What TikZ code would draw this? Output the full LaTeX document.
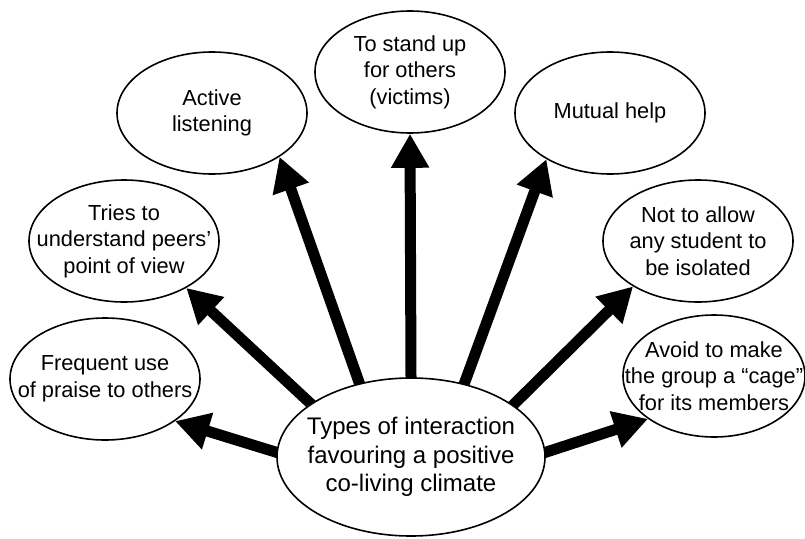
\documentclass[tikz,border=0pt]{standalone}
\usepackage{fontspec}
\setmainfont{Liberation Sans}
\usetikzlibrary{arrows.meta,shapes.geometric,backgrounds}
\tikzset{
  bubble/.style={ellipse,draw,line width=1.6pt,fill=white,
    minimum width=190pt,minimum height=122pt,inner sep=0pt},
  bubbletext/.style={align=center,inner sep=0pt,font=\fontsize{21.8}{26.5}\selectfont},
  push/.style={line width=11pt,-{Triangle[width=36pt,length=34pt]},shorten <=-6pt}
}
\begin{document}
\begin{tikzpicture}[x=1pt,y=-1pt]
      \useasboundingbox (0,0) rectangle (805,538);
      \draw
        (411,457) node[bubble,minimum width=268pt,minimum height=158pt,
          label={[bubbletext,font=\fontsize{24}{28.3}\selectfont]center:{Types of interaction\\favouring a positive\\co-living climate}}] (centre){}
        (105,379) node[bubble,label={[bubbletext]center:{Frequent use\\of praise to others}}] (praise){}
        (124,241) node[bubble,label={[bubbletext]center:{Tries to\\understand peers’\\point of view}}] (peers){}
        (212,113) node[bubble,label={[bubbletext]center:{Active\\listening}}] (listen){}
        (410,72) node[bubble,label={[bubbletext]center:{To stand up\\for others\\(victims)}}] (standup){}
        (610,113) node[bubble,label={[bubbletext]center:{Mutual help}}] (mutual){}
        (698,241) node[bubble,label={[bubbletext]center:{Not to allow\\any student to\\be isolated}}] (isolated){}
        (714,376) node[bubble,minimum width=182pt,label={[bubbletext]center:{Avoid to make\\the group a “cage”\\for its members}}] (cage){};
      \begin{scope}[on background layer]
        \draw[push] (centre.178) to (praise.-31.6);
        \draw[push] (centre.152.6) to (peers.-37.6);
        \draw[push] (centre.125.8) to (listen.-33.5);
        \draw[push] (centre.90) to (standup.south);
        \draw[push] (centre.54.2) to (mutual.-144.1);
        \draw[push] (centre.27.4) to (isolated.-145.4);
        \draw[push] (centre.2) to (cage.-147.5);
      \end{scope}
    \end{tikzpicture}
\end{document}
